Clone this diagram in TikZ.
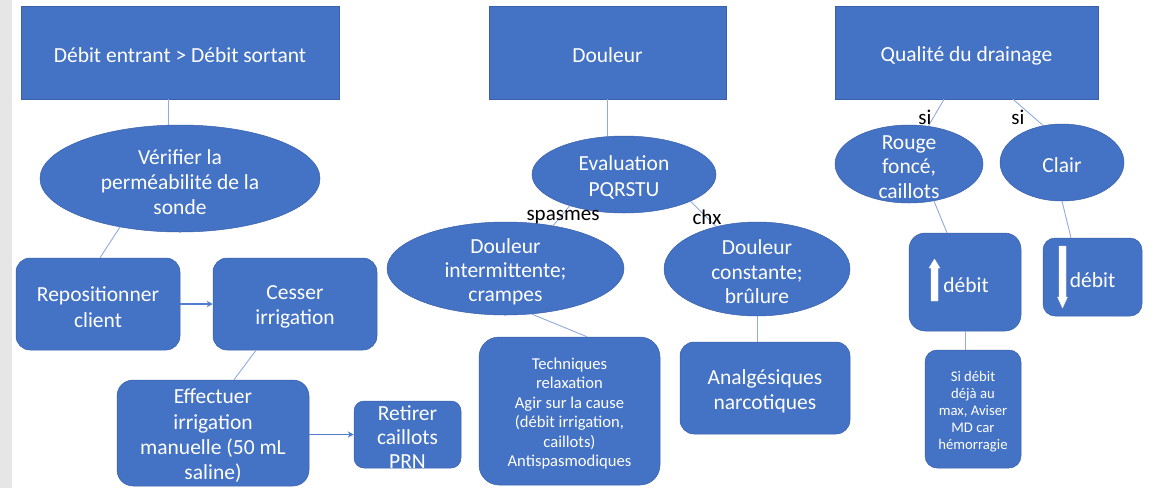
\documentclass[tikz,border=0pt]{standalone}
\usepackage{fontspec}
\setmainfont{Carlito}
\usetikzlibrary{shapes.geometric,arrows.meta,calc}
\definecolor{boxblue}{RGB}{68,114,196}
\definecolor{boxedge}{RGB}{58,96,170}
\definecolor{linkblue}{RGB}{143,170,220}
\definecolor{arrowblue}{RGB}{80,125,205}
\definecolor{margingray}{RGB}{230,230,230}
\begin{document}
\begin{tikzpicture}[x=1pt,y=-1pt,
  base/.style={fill=boxblue,draw=boxedge,line width=0.5pt,inner sep=0pt},
  sqbox/.style={base,rectangle},
  rbox/.style={base,rectangle,rounded corners=14pt},
  ebox/.style={base,ellipse},
  txt/.style={text=white,align=center,inner sep=0pt,font=\fontsize{21.5}{25.3}\selectfont},
  smalltxt/.style={txt,font=\fontsize{16.6}{19.5}\selectfont},
  tinytxt/.style={txt,font=\fontsize{14.7}{17}\selectfont},
  link/.style={draw=linkblue,line width=0.9pt},
  flow/.style={draw=arrowblue,line width=1.1pt,-{Stealth[length=6pt,width=6pt]}},
  lab/.style={text=black,font=\fontsize{21}{22}\selectfont,inner sep=0pt},
  wharrow/.style={fill=white,draw=white!85!gray,line width=0.4pt}
]
\useasboundingbox (0,0) rectangle (1160,488);
\fill[margingray] (0,0) rectangle (12,488);

% top boxes
\node[sqbox,minimum width=318pt,minimum height=93pt] (b1) at (180,52.5) {};
\node[sqbox,minimum width=237pt,minimum height=93pt] (b2) at (607.5,52.5) {};
\node[sqbox,minimum width=263pt,minimum height=93pt] (b3) at (966.5,52.5) {};
\node[txt] (b1t) at ($(b1)+(0,3)$) {Débit entrant > Débit sortant};
\node[txt] (b2t) at ($(b2)+(0,3)$) {Douleur};
\node[txt] (b3t) at ($(b3)+(0,3)$) {Qualité du drainage};

% left branch
\node[ebox,minimum width=280pt,minimum height=107pt] (e1) at (180,178.5) {};
\node[rbox,minimum width=164pt,minimum height=92pt] (rep) at (98,304) {};
\node[rbox,minimum width=164pt,minimum height=92pt] (ces) at (295,304) {};
\node[rbox,rounded corners=16pt,minimum width=192pt,minimum height=106pt] (eff) at (213,433) {};
\node[rbox,rounded corners=10pt,minimum width=107pt,minimum height=67pt] (ret) at (407.5,434.5) {};
\node[txt] (e1t) at ($(e1)+(0,3.5)$) {Vérifier la\\perméabilité de la\\sonde};
\node[txt] (rept) at ($(rep)+(0,3)$) {Repositionner\\client};
\node[txt] (cest) at ($(ces)+(0,3)$) {Cesser\\irrigation};
\node[txt] (efft) at ($(eff)+(0,3)$) {Effectuer\\irrigation\\manuelle (50 mL\\saline)};
\node[txt,font=\fontsize{21.5}{24}\selectfont] (rett) at ($(ret)+(0,3)$) {Retirer\\caillots\\PRN};

% middle branch
\node[ebox,minimum width=184pt,minimum height=77pt] (eva) at (624,174.5) {};
\node[ebox,minimum width=237pt,minimum height=93pt] (int) at (505.5,268.5) {};
\node[ebox,minimum width=186pt,minimum height=94pt] (con) at (757,269) {};
\node[rbox,rounded corners=20pt,minimum width=181pt,minimum height=148pt] (tech) at (569.5,411) {};
\node[rbox,minimum width=170pt,minimum height=92pt] (anal) at (765,388) {};
\node[txt,font=\fontsize{21.5}{26}\selectfont] (evat) at ($(eva)+(0,3)$) {Evaluation\\PQRSTU};
\node[txt,font=\fontsize{21.5}{24}\selectfont] (intt) at ($(int)+(0,3)$) {Douleur\\intermittente;\\crampes};
\node[txt,font=\fontsize{21.5}{24.5}\selectfont] (cont) at ($(con)+(0,3)$) {Douleur\\constante;\\brûlure};
\node[smalltxt] (techt) at ($(tech)+(0,2.5)$) {Techniques\\relaxation\\Agir sur la cause\hspace*{33pt}\\(débit irrigation,\\caillots)\hspace*{5pt}\\Antispasmodiques};
\node[txt] (analt) at ($(anal)+(0,3)$) {Analgésiques\\narcotiques};

% right branch
\node[ebox,minimum width=148pt,minimum height=78pt] (rouge) at (909,164) {};
\node[ebox,minimum width=124pt,minimum height=77pt] (clair) at (1062,162.5) {};
\node[rbox,rounded corners=16pt,minimum width=112pt,minimum height=98pt] (up) at (965,282) {};
\node[rbox,rounded corners=12pt,minimum width=99pt,minimum height=78pt] (down) at (1092.5,277) {};
\node[rbox,rounded corners=12pt,minimum width=96pt,minimum height=118pt] (si) at (973,409) {};
\node[txt,font=\fontsize{21.5}{24.5}\selectfont] (rouget) at ($(rouge)+(0,3)$) {Rouge\\foncé,\\caillots};
\node[txt] (clairt) at ($(clair)+(0,3)$) {Clair};
\node[tinytxt] (sit) at ($(si)+(0,2.5)$) {Si débit\\déjà au\\max, Aviser\\MD car\\hémorragie};

% texts and white arrows inside the débit boxes
\node[txt] (upt) at ($(up)+(1,3)$) {débit};
\node[txt] (downt) at ($(down)+(0,3)$) {débit};
\filldraw[wharrow] (934.5,259) -- (940,268) -- (938,268) -- (938,301) -- (931,301) -- (931,268) -- (929,268) -- cycle;
\filldraw[wharrow] (1062.5,308) -- (1067.5,297) -- (1066,297) -- (1066,246) -- (1059,246) -- (1059,297) -- (1057.5,297) -- cycle;

% connectors
\draw[link] ($(b1.south)+(-12,0)$) -- ($(e1.north)+(-12,0.6)$);
\draw[link] (e1.219) -- ($(rep.north)+(2,0)$);
\draw[flow] (rep.east) -- (ces.west);
\draw[link] ($(ces.south)+(-39,0)$) -- ($(eff.north)+(21,0)$);
\draw[flow] (ret.west -| eff.east) -- (ret.west);

\draw[link] (b2.south) -- ($(b2.south |- eva.north)+(0,0.7)$);
\draw[link] (eva.210) -- (int.42);
\draw[link] (eva.338) -- (con.134);
\draw[link] (int.300) -- ($(tech.north)+(17.5,0)$);
\draw[link] (con.south) -- (con.south |- anal.north);

\draw[link] ($(b3.south)+(-22.5,0)$) -- (rouge.63);
\draw[link] ($(b3.south)+(46.5,0)$) -- (clair.117);
\draw[link] (rouge.304) -- ($(up.north)+(-18,0)$);
\draw[link] (clair.south) -- ($(down.north)+(-21.5,0)$);
\draw[link] (up.south) -- (up.south |- si.north);

% edge labels
\node[lab] (lspas) at (563,217) {spasmes};
\node[lab] (lchx) at (707,217) {chx};
\node[lab] (lsi1) at (925,117) {si};
\node[lab] (lsi2) at (1018,117) {si};
\end{tikzpicture}
\end{document}
